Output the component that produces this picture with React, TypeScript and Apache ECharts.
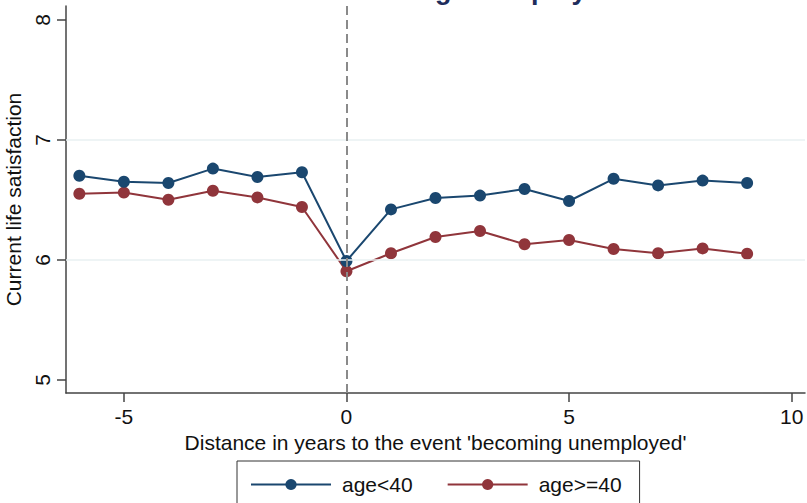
import React, { useEffect, useRef } from "react";
import * as echarts from "echarts";

const years = [-6, -5, -4, -3, -2, -1, 0, 1, 2, 3, 4, 5, 6, 7, 8, 9];
const youngValues = [6.70, 6.65, 6.64, 6.76, 6.69, 6.73, 5.99, 6.42, 6.515, 6.535, 6.59, 6.49, 6.675, 6.62, 6.66, 6.64];
const olderValues = [6.55, 6.56, 6.50, 6.575, 6.52, 6.44, 5.905, 6.055, 6.19, 6.24, 6.13, 6.165, 6.09, 6.055, 6.095, 6.05];
const xTicks = [-5, 0, 5, 10];
const yTicks = [5, 6, 7, 8];
const gridValues = [6, 7];
const seriesNames = ["age<40", "age>=40"];
const titleText = "Becoming unemployed";

const FONT = "'Liberation Sans', Arial, Helvetica, sans-serif";

export default function App() {
  const ref = useRef<HTMLDivElement>(null);
  useEffect(() => {
    if (!ref.current) return;
    const chart = echarts.init(ref.current, null, { renderer: "svg" });
    chart.setOption({
      animation: false,
      backgroundColor: "#ffffff",
      textStyle: { fontFamily: FONT },
      graphic: [
        {
          type: "text",
          left: 321,
          top: -24,
          style: {
            text: titleText,
            font: `bold 27px ${FONT}`,
            fill: "#1e2d5c",
          },
        },
      ],
      grid: { left: 66, top: 6, width: 739, height: 387, containLabel: false, outerBoundsMode: "none" },
      xAxis: {
        type: "value",
        min: -6.3,
        max: 10.3,
        name: "Distance in years to the event 'becoming unemployed'",
        nameLocation: "middle",
        nameGap: 38,
        nameTextStyle: { fontSize: 21, color: "#111", fontFamily: FONT },
        axisLine: { show: true, onZero: false, lineStyle: { color: "#444", width: 1.5 } },
        axisTick: { show: true, length: 9, customValues: xTicks, lineStyle: { color: "#444", width: 1.5 } },
        axisLabel: { customValues: xTicks, fontSize: 21, color: "#111", margin: 13, fontFamily: FONT },
        splitLine: { show: false },
      },
      yAxis: {
        type: "value",
        min: 4.89,
        max: 8.115,
        name: "Current life satisfaction",
        nameLocation: "middle",
        nameRotate: 90,
        nameGap: 35,
        nameTextStyle: { fontSize: 21, color: "#111", fontFamily: FONT },
        axisLine: { show: true, onZero: false, lineStyle: { color: "#444", width: 1.5 } },
        axisTick: { show: true, length: 9, customValues: yTicks, lineStyle: { color: "#444", width: 1.5 } },
        axisLabel: { customValues: yTicks, fontSize: 21, color: "#111", rotate: 90, margin: 13, fontFamily: FONT },
        splitLine: { show: false },
      },
      legend: {
        data: seriesNames,
        left: 237,
        top: 461,
        orient: "horizontal",
        borderColor: "#333",
        borderWidth: 1,
        padding: [13, 18, 30, 13],
        itemWidth: 80,
        itemHeight: 14,
        itemGap: 34,
        textStyle: { fontSize: 21, color: "#111", fontFamily: FONT, padding: [0, 0, 0, 6] },
      },
      series: [
        {
          type: "line",
          name: "grid",
          data: [],
          silent: true,
          z: 1,
          markLine: {
            silent: true,
            symbol: "none",
            label: { show: false },
            lineStyle: { color: "#e8f0f2", width: 1.5, type: "solid" },
            data: gridValues.map((v) => ({ yAxis: v })),
          },
        },
        {
          type: "line",
          name: "zero",
          data: [],
          silent: true,
          z: 1,
          markLine: {
            silent: true,
            symbol: "none",
            label: { show: false },
            lineStyle: { color: "#8a8a8a", width: 2, type: [9, 5] },
            data: [{ xAxis: 0 }],
          },
        },
        {
          type: "line",
          name: seriesNames[0],
          data: years.map((x, i) => [x, youngValues[i]]),
          symbol: "circle",
          symbolSize: 12,
          z: 3,
          itemStyle: { color: "#1a476f" },
          lineStyle: { color: "#1a476f", width: 2 },
        },
        {
          type: "line",
          name: seriesNames[1],
          data: years.map((x, i) => [x, olderValues[i]]),
          symbol: "circle",
          symbolSize: 12,
          z: 2,
          itemStyle: { color: "#90353b" },
          lineStyle: { color: "#90353b", width: 2 },
        },
      ],
    });
    return () => chart.dispose();
  }, []);
  return <div ref={ref} style={{ width: 807, height: 503, position: "absolute", left: 0, top: 0 }} />;
}
